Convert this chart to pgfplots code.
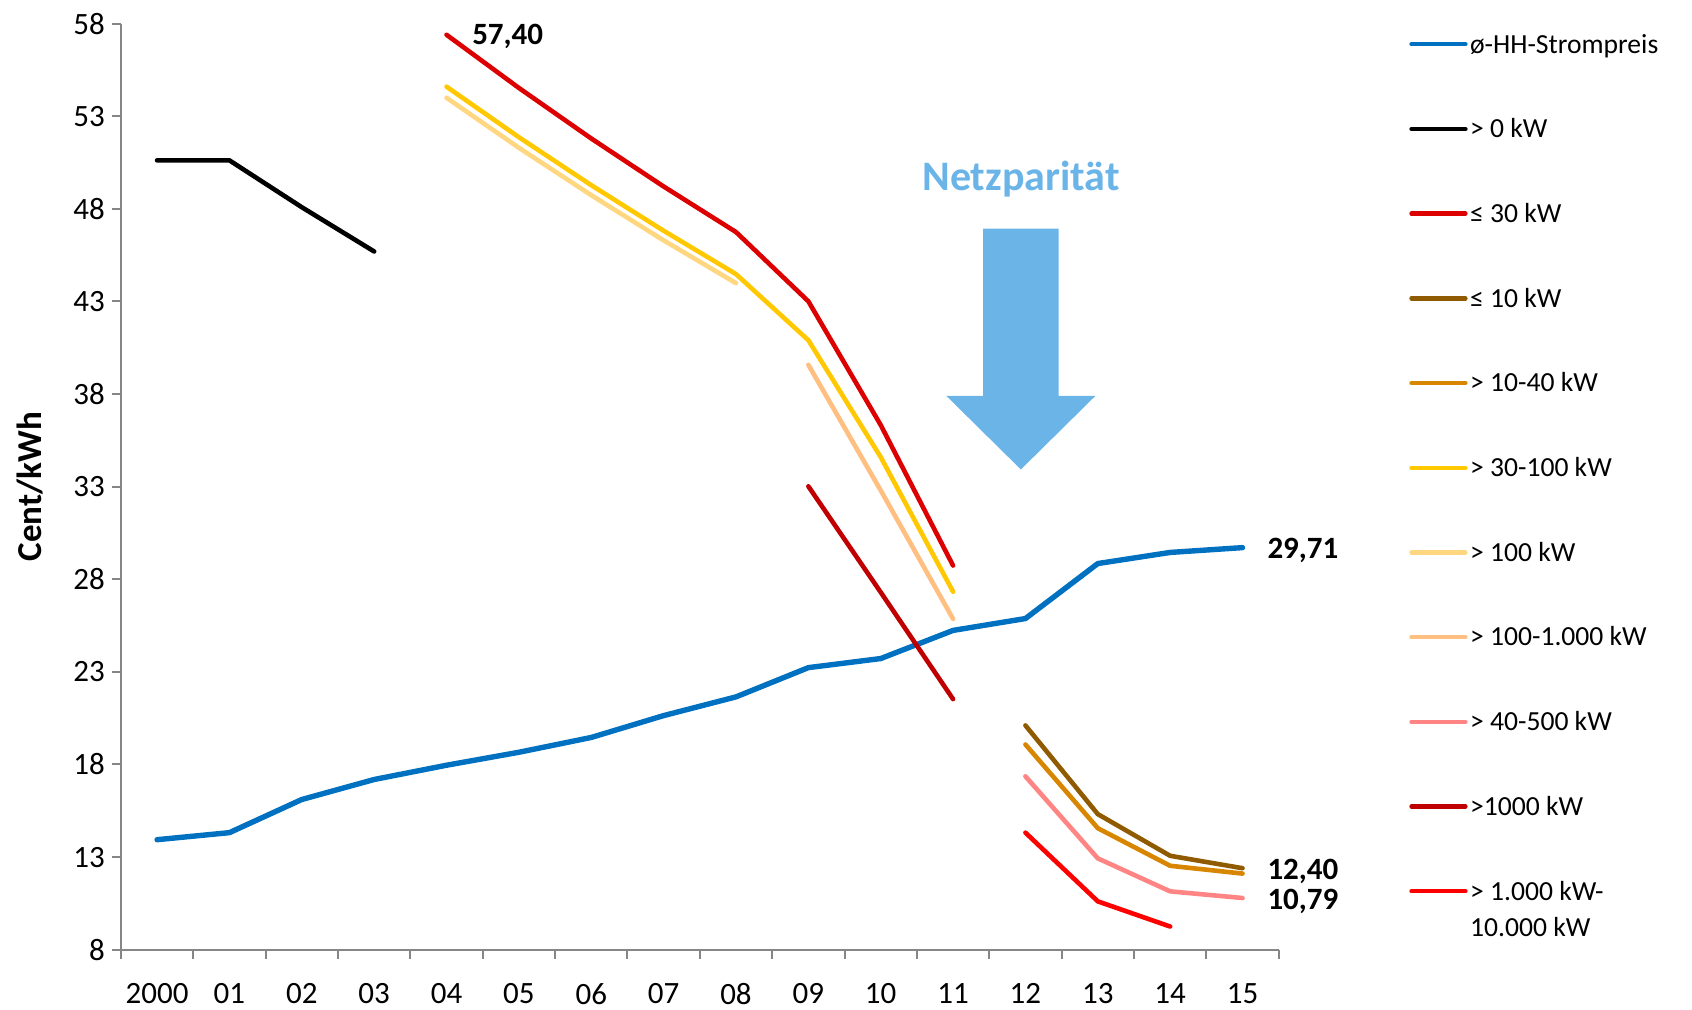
\documentclass[border=0pt]{standalone}
\usepackage{fontspec}
\setmainfont{Carlito}
\usepackage{pgfplots}
\pgfplotsset{compat=1.18}
\definecolor{cblue}{HTML}{0070C0}
\definecolor{cred30}{HTML}{DD0000}
\definecolor{cbrown}{HTML}{8F5A00}
\definecolor{corange}{HTML}{D88600}
\definecolor{cyellow}{HTML}{FFC800}
\definecolor{clight}{HTML}{FFD780}
\definecolor{cpeach}{HTML}{FFBF80}
\definecolor{cpink}{HTML}{FF8585}
\definecolor{cdarkred}{HTML}{C00000}
\definecolor{cred}{HTML}{FF0000}
\definecolor{carrow}{HTML}{6BB4E8}
\definecolor{axgray}{HTML}{868686}
\begin{document}
\begin{tikzpicture}
\useasboundingbox (-60.45pt,-30pt) rectangle (785.55pt,474.85pt);
\begin{axis}[
  scale only axis, width=578.9pt, height=463pt,
  xmin=-0.5, xmax=15.5, ymin=8, ymax=58,
  axis x line=bottom, axis y line=left,
  axis line style={-, draw=axgray, line width=1pt},
  ytick={8,13,...,58},
  xtick={-0.5,0.5,...,15.5}, x tick label as interval,
  xticklabels={2000,01,02,03,04,05,06,07,08,09,10,11,12,13,14,15},
  tick align=outside, major tick length=4.5pt,
  tick style={draw=axgray, line width=1pt},
  ticklabel style={font=\fontsize{15.5}{18}\selectfont},
  xticklabel style={inner sep=0pt, yshift=-12pt},
  /pgf/number format/assume math mode=true,
  clip=false,
  every axis plot/.append style={line width=2.3pt, line cap=round, line join=round, mark=none},
]
\addplot[cblue, line width=2.7pt] coordinates {(0,13.94)(1,14.32)(2,16.11)(3,17.19)(4,17.96)(5,18.66)(6,19.46)(7,20.64)(8,21.65)(9,23.23)(10,23.72)(11,25.24)(12,25.88)(13,28.85)(14,29.45)(15,29.71)};
\addplot[black] coordinates {(0,50.62)(1,50.62)(2,48.09)(3,45.70)};
\addplot[cred30] coordinates {(4,57.40)(5,54.53)(6,51.80)(7,49.21)(8,46.75)(9,43.01)(10,36.33)(11,28.74)};
\addplot[cbrown] coordinates {(12,20.11)(13,15.32)(14,13.07)(15,12.40)};
\addplot[corange] coordinates {(12,19.08)(13,14.56)(14,12.53)(15,12.11)};
\addplot[cyellow] coordinates {(4,54.60)(5,51.87)(6,49.28)(7,46.82)(8,44.48)(9,40.91)(10,34.6)(11,27.33)};
\addplot[clight] coordinates {(4,54.00)(5,51.30)(6,48.74)(7,46.30)(8,43.99)};
\addplot[cpeach] coordinates {(9,39.58)(10,32.8)(11,25.86)};
\addplot[cpink] coordinates {(12,17.36)(13,12.93)(14,11.15)(15,10.79)};
\addplot[cdarkred] coordinates {(9,33.02)(10,27.3)(11,21.53)};
\addplot[cred] coordinates {(12,14.32)(13,10.61)(14,9.25)};
\node[anchor=west, inner sep=0pt, font=\fontsize{15.5}{18}\selectfont\bfseries] at (axis cs:4.35,57.3) {57,40};
\node[anchor=west, inner sep=0pt, font=\fontsize{15.5}{18}\selectfont\bfseries] at (axis cs:15.34,29.56) {29,71};
\node[anchor=west, inner sep=0pt, font=\fontsize{15.5}{18}\selectfont\bfseries] at (axis cs:15.34,12.25) {12,40};
\node[anchor=west, inner sep=0pt, font=\fontsize{15.5}{18}\selectfont\bfseries] at (axis cs:15.34,10.62) {10,79};
\node[inner sep=0pt, text=carrow, font=\fontsize{21}{24}\selectfont\bfseries] at (axis cs:11.94,49.6) {Netzparität};
\fill[carrow] (axis cs:11.415,46.93) -- (axis cs:12.459,46.93) -- (axis cs:12.459,37.9) -- (axis cs:12.966,37.9) -- (axis cs:11.937,33.93) -- (axis cs:10.908,37.9) -- (axis cs:11.415,37.9) -- cycle;
\node[rotate=90, inner sep=0pt, font=\fontsize{17.5}{20}\selectfont\bfseries] at (axis description cs:-0.0784,0.5) {Cent/kWh};
\end{axis}
\foreach \c/\t [count=\i from 0] in {cblue/ø-HH-Strompreis, black/> 0 kW, cred30/≤ 30 kW, cbrown/≤ 10 kW, corange/> 10-40 kW, cyellow/> 30-100 kW, clight/> 100 kW, cpeach/> 100-1.000 kW, cpink/> 40-500 kW, cdarkred/>1000 kW, cred/> 1.000 kW-}{
  \draw[\c, line width=2.2pt, line cap=round] (645.3pt,{452.7pt-42.35pt*\i}) -- (672.25pt,{452.7pt-42.35pt*\i});
  \node[anchor=base west, inner sep=0pt, font=\fontsize{13.8}{16}\selectfont] at (674.4pt,{452.7pt-42.35pt*\i-4.4pt}) {\t};
}
\node[anchor=base west, inner sep=0pt, font=\fontsize{13.8}{16}\selectfont] at (674.4pt,{452.7pt-42.35pt*10-4.4pt-18.3pt}) {10.000 kW};
\end{tikzpicture}
\end{document}
